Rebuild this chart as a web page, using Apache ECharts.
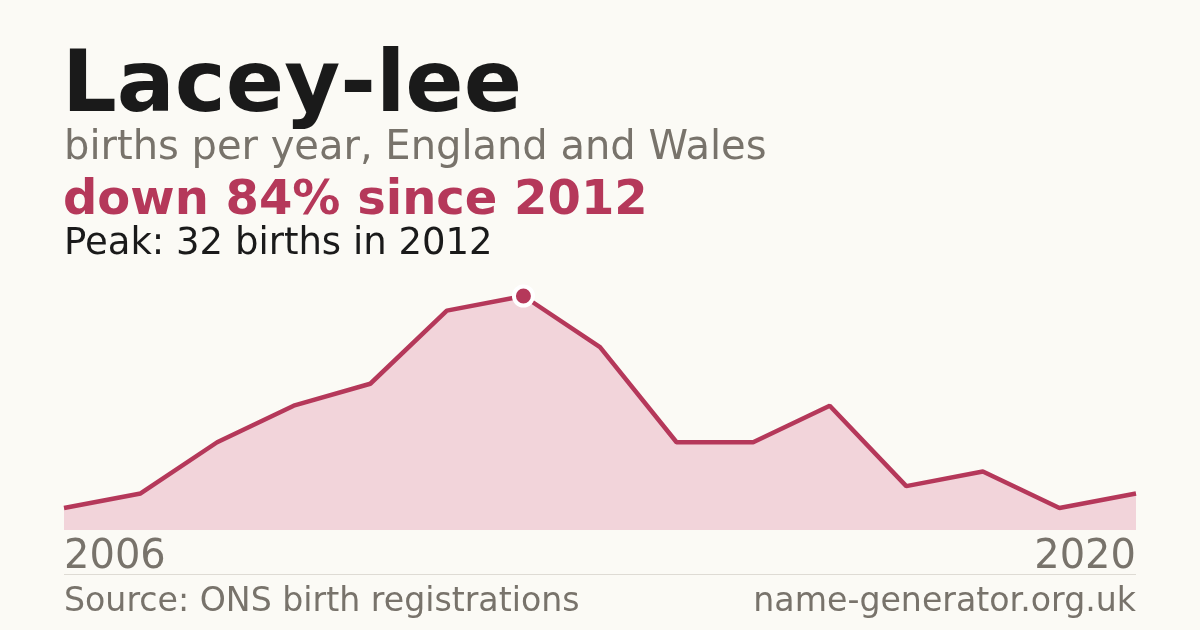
<!DOCTYPE html>
<html>
<head>
<meta charset="utf-8">
<script src="https://cdn.jsdelivr.net/npm/echarts@6/dist/echarts.min.js"></script>
<style>
  html, body { margin: 0; padding: 0; background: #fbfaf5; }
  #chart { width: 1200px; height: 630px; }
</style>
</head>
<body>
<div id="chart"></div>
<script>
// data
var years = ['2006', '2007', '2008', '2009', '2010', '2011', '2012', '2013',
             '2014', '2015', '2016', '2017', '2018', '2019', '2020'];
var births = [3, 5, 12, 17, 20, 30, 32, 25, 12, 12, 17, 6, 8, 3, 5];
var peakIndex = 6;

var red = '#b5385a';
var grey = '#78736b';
var font = 'DejaVu Sans';

var chart = echarts.init(document.getElementById('chart'));

var option = {
    backgroundColor: '#fbfaf5',
    animation: false,
    title: [
        { text: 'Lacey-lee', left: 62, top: 46, padding: 0,
          textStyle: { fontFamily: font, fontSize: 86, fontWeight: 'bold', color: '#1a1a1a' } },
        { text: 'births per year, England and Wales', left: 64, top: 129, padding: 0,
          textStyle: { fontFamily: font, fontSize: 40, fontWeight: 'normal', color: grey } },
        { text: 'down 84% since 2012', left: 63, top: 178, padding: 0,
          textStyle: { fontFamily: font, fontSize: 48, fontWeight: 'bold', color: red } },
        { text: 'Peak: 32 births in 2012', left: 64, top: 226, padding: 0,
          textStyle: { fontFamily: font, fontSize: 37, fontWeight: 'normal', color: '#1a1a1a' } },
        { text: 'Source: ONS birth registrations', left: 64, top: 586, padding: 0,
          textStyle: { fontFamily: font, fontSize: 33.2, fontWeight: 'normal', color: grey } },
        { text: 'name-generator.org.uk', right: 64, top: 586, padding: 0,
          textStyle: { fontFamily: font, fontSize: 33.2, fontWeight: 'normal', color: grey } }
    ],
    graphic: [{
        type: 'line',
        shape: { x1: 64, y1: 574.5, x2: 1136, y2: 574.5 },
        style: { stroke: '#dedbd4', lineWidth: 1 }
    }],
    grid: { left: 64, right: 64, top: 296, bottom: 100 },
    xAxis: {
        type: 'category',
        data: years,
        boundaryGap: false,
        axisLine: { show: false },
        axisTick: { show: false },
        axisLabel: {
            margin: 8,
            fontFamily: font,
            fontSize: 40,
            color: grey,
            alignMinLabel: 'left',
            alignMaxLabel: 'right',
            interval: function (i) { return i === 0 || i === years.length - 1; }
        }
    },
    yAxis: {
        type: 'value',
        min: 0,
        max: 32,
        show: false,
        splitLine: { show: false }
    },
    series: [{
        type: 'line',
        data: births,
        symbol: 'none',
        lineStyle: { color: red, width: 4.5 },
        areaStyle: { color: '#f2d4da', opacity: 1 },
        z: 2
    }, {
        type: 'scatter',
        data: [[peakIndex, births[peakIndex]]],
        symbol: 'circle',
        symbolSize: 19,
        itemStyle: { color: red, opacity: 1, borderColor: '#ffffff', borderWidth: 4 },
        z: 3
    }]
};

chart.setOption(option);
</script>
</body>
</html>
